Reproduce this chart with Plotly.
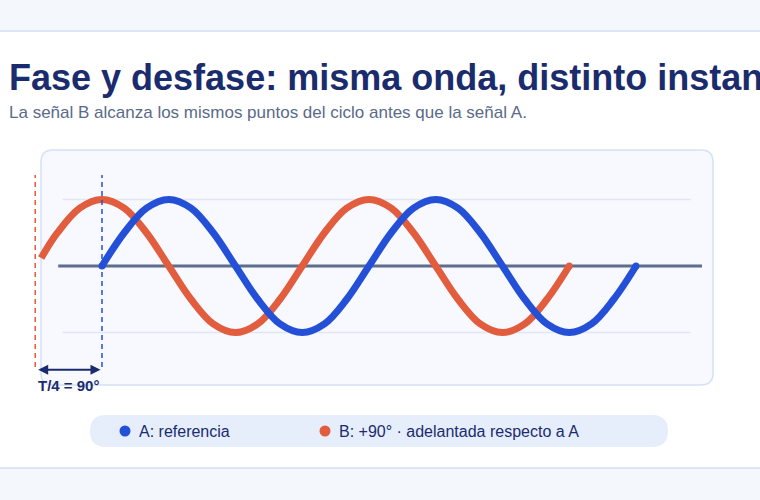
import plotly.graph_objects as go

W, H = 760, 500

# phase in degrees (A time base), signal values
t_a = [0, 30, 60, 90, 120, 150, 180, 210, 240, 270, 300, 330, 360,
       390, 420, 450, 480, 510, 540, 570, 600, 630, 660, 690, 720]
sig_a = [0, 0.5, 0.87, 1, 0.87, 0.5, 0, -0.5, -0.87, -1, -0.87, -0.5, 0,
         0.5, 0.87, 1, 0.87, 0.5, 0, -0.5, -0.87, -1, -0.87, -0.5, 0]

# B starts at the panel edge (clipped), leads A by 90 degrees
t_b = [-82, -60, -30, 0, 30, 60, 90, 120, 150, 180, 210, 240, 270,
       300, 330, 360, 390, 420, 450, 480, 510, 540, 570, 600, 630]
sig_b = [0.12, 0.5, 0.87, 1, 0.87, 0.5, 0, -0.5, -0.87, -1, -0.87, -0.5, 0,
         0.5, 0.87, 1, 0.87, 0.5, 0, -0.5, -0.87, -1, -0.87, -0.5, 0]

shift_deg = 90
names = ["A: referencia", "B: +90° · adelantada respecto a A"]

BLUE = "#2450d8"
RED = "#e25c3e"
NAVY = "#1a2c6e"
FONT = "Liberation Sans, Arial, sans-serif"


def px(x):
    return x / W


def py(y):
    return 1 - y / H


def rounded(x0, y0, x1, y1, r):
    # rounded rect path in paper fractions from pixel box
    pts = [
        f"M {px(x0 + r)} {py(y0)}",
        f"L {px(x1 - r)} {py(y0)}",
        f"Q {px(x1)} {py(y0)} {px(x1)} {py(y0 + r)}",
        f"L {px(x1)} {py(y1 - r)}",
        f"Q {px(x1)} {py(y1)} {px(x1 - r)} {py(y1)}",
        f"L {px(x0 + r)} {py(y1)}",
        f"Q {px(x0)} {py(y1)} {px(x0)} {py(y1 - r)}",
        f"L {px(x0)} {py(y0 + r)}",
        f"Q {px(x0)} {py(y0)} {px(x0 + r)} {py(y0)}",
        "Z",
    ]
    return " ".join(pts)


def dot(cx, cy, r, color):
    return dict(type="circle", xref="paper", yref="paper",
                x0=px(cx - r), x1=px(cx + r), y0=py(cy + r), y1=py(cy - r),
                fillcolor=color, line_width=0)


fig = go.Figure()

fig.add_trace(go.Scatter(
    x=t_b, y=sig_b, mode="lines", name=names[1],
    line=dict(color=RED, width=7, shape="spline", smoothing=1),
    hoverinfo="skip",
))
fig.add_trace(go.Scatter(
    x=t_a, y=sig_a, mode="lines", name=names[0],
    line=dict(color=BLUE, width=7, shape="spline", smoothing=1),
    hoverinfo="skip",
))
# round line ends
fig.add_trace(go.Scatter(
    x=[t_b[-1]], y=[sig_b[-1]], mode="markers",
    marker=dict(color=RED, size=7, line_width=0), hoverinfo="skip",
))
fig.add_trace(go.Scatter(
    x=[t_a[0], t_a[-1]], y=[sig_a[0], sig_a[-1]], mode="markers",
    marker=dict(color=BLUE, size=7, line_width=0), hoverinfo="skip",
))

shapes = [
    # top / bottom bands
    dict(type="rect", xref="paper", yref="paper", x0=0, x1=1, y0=py(30), y1=1,
         fillcolor="#f4f7fc", line_width=0, layer="below"),
    dict(type="line", xref="paper", yref="paper", x0=0, x1=1, y0=py(31), y1=py(31),
         line=dict(color="#dbe5f5", width=2), layer="below"),
    dict(type="rect", xref="paper", yref="paper", x0=0, x1=1, y0=0, y1=py(469),
         fillcolor="#f4f7fc", line_width=0, layer="below"),
    dict(type="line", xref="paper", yref="paper", x0=0, x1=1, y0=py(468), y1=py(468),
         line=dict(color="#dbe5f5", width=2), layer="below"),
    # chart panel
    dict(type="path", xref="paper", yref="paper", path=rounded(41, 150, 713, 385, 12),
         fillcolor="#f7f9fe", line=dict(color="#d5e1f5", width=1.5), layer="below"),
    # grid lines at +-1 and baseline
    dict(type="line", xref="x", yref="y", x0=-53, x1=794, y0=1, y1=1,
         line=dict(color="#dfe7f5", width=1.5), layer="below"),
    dict(type="line", xref="x", yref="y", x0=-53, x1=794, y0=-1, y1=-1,
         line=dict(color="#dfe7f5", width=1.5), layer="below"),
    dict(type="line", xref="x", yref="y", x0=-59, x1=809, y0=0, y1=0,
         line=dict(color="#5d6d8c", width=3), layer="below"),
    # start markers of each signal
    dict(type="line", xref="x", yref="y", x0=-shift_deg, x1=-shift_deg, y0=-1.52, y1=1.37,
         line=dict(color=RED, width=1.5, dash="5px,4px")),
    dict(type="line", xref="x", yref="y", x0=0, x1=0, y0=-1.52, y1=1.37,
         line=dict(color=BLUE, width=1.5, dash="5px,4px")),
    # legend pill and dots
    dict(type="path", xref="paper", yref="paper", path=rounded(90, 415, 668, 447, 16),
         fillcolor="#e6eefc", line_width=0, layer="below"),
    dot(125, 431, 5.5, BLUE),
    dot(325, 431, 5.5, RED),
]

annotations = [
    dict(text="<b>Fase y desfase: misma onda, distinto instante</b>",
         xref="paper", yref="paper", x=px(7), y=py(77), xanchor="left", yanchor="middle",
         showarrow=False, font=dict(family=FONT, size=36, color=NAVY)),
    dict(text="La señal B alcanza los mismos puntos del ciclo antes que la señal A.",
         xref="paper", yref="paper", x=px(7), y=py(113), xanchor="left", yanchor="middle",
         showarrow=False, font=dict(family=FONT, size=17, color="#5a6a8a")),
    # double arrow for the shift
    dict(x=-2, y=-1.56, ax=-shift_deg + 2, ay=-1.56, xref="x", yref="y",
         axref="x", ayref="y", text="", showarrow=True, arrowhead=2, arrowside="end+start",
         arrowsize=1, arrowwidth=2, arrowcolor=NAVY),
    dict(text="<b>T/4 = 90°</b>", x=-shift_deg / 2, y=-1.79, xref="x", yref="y",
         xanchor="center", yanchor="middle",
         showarrow=False, font=dict(family=FONT, size=15, color=NAVY)),
    # legend labels
    dict(text=names[0], xref="paper", yref="paper", x=px(137), y=py(431),
         xanchor="left", yanchor="middle", showarrow=False,
         font=dict(family=FONT, size=16, color=NAVY)),
    dict(text=names[1], xref="paper", yref="paper", x=px(337), y=py(431),
         xanchor="left", yanchor="middle", showarrow=False,
         font=dict(family=FONT, size=16, color=NAVY)),
]

fig.update_layout(
    width=W, height=H, autosize=False,
    margin=dict(l=0, r=0, t=0, b=0),
    paper_bgcolor="white", plot_bgcolor="rgba(0,0,0,0)",
    showlegend=False,
    xaxis=dict(range=[-137.5, 887.2], visible=False, fixedrange=True),
    yaxis=dict(range=[-3.519, 4.0], visible=False, fixedrange=True),
    shapes=shapes,
    annotations=annotations,
    font=dict(family=FONT),
)

fig.write_html("out.html", config={"displayModeBar": False},
               post_script="document.body.style.margin='0';")
